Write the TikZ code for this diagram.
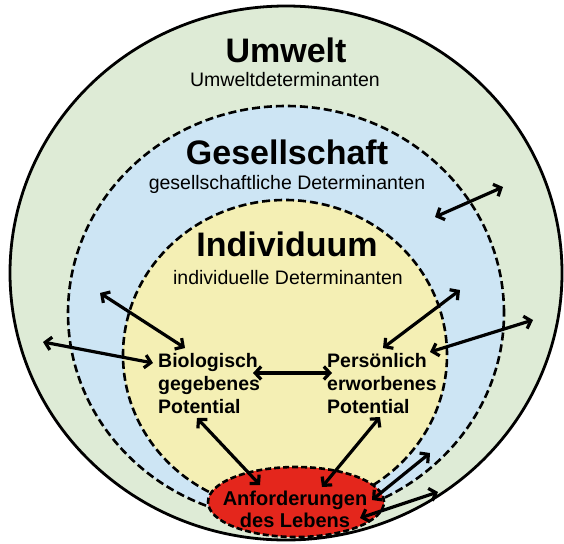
\documentclass[tikz,border=0pt]{standalone}
\usepackage{fontspec}
\setmainfont{Liberation Sans}
\usetikzlibrary{arrows.meta}
\definecolor{umweltgreen}{HTML}{DEEBD6}
\definecolor{gesblue}{HTML}{CDE5F4}
\definecolor{indyellow}{HTML}{F4EFB4}
\definecolor{lebensred}{HTML}{E4261C}
\begin{document}
\begin{tikzpicture}[x=1pt,y=-1pt,
  biarrow/.style={{Straight Barb[length=6pt,width=13pt]}-{Straight Barb[length=6pt,width=13pt]}, line width=3.2pt},
  zone/.style={line width=2.6pt, dash pattern=on 8pt off 4pt},
  titletext/.style={font=\fontsize{34}{40}\selectfont\bfseries, inner sep=0pt},
  subtext/.style={font=\fontsize{19.5}{23}\selectfont, inner sep=0pt},
  pottext/.style={font=\fontsize{19.5}{23}\selectfont\bfseries, inner sep=0pt, align=left, anchor=north west},
  redtext/.style={font=\fontsize{20}{22}\selectfont\bfseries, inner sep=0pt, align=center}
]
\useasboundingbox (0,0) rectangle (564,543);
\fill[white] (0,0) rectangle (564,543);

% Umwelt
\path[draw=black, line width=2.8pt, fill=umweltgreen] (286,273) ellipse [x radius=276pt, y radius=267pt];

% Gesellschaft
\path[zone, draw=black, fill=gesblue] (286,313) ellipse [x radius=218pt, y radius=207pt];

% Individuum
\path[zone, draw=black, fill=indyellow] (285,355) ellipse [x radius=162pt, y radius=155pt];

% Anforderungen des Lebens
\path[draw=black, fill=lebensred, line width=2.6pt, dash pattern=on 6pt off 3pt] (296,502) ellipse [x radius=88pt, y radius=35pt];

% Texts
\node[titletext] (umwelt) at (286,50) {Umwelt};
\node[subtext] (umweltdet) at (285,80) {Umweltdeterminanten};
\node[titletext] (ges) at (287,152) {Gesellschaft};
\node[subtext] (gesdet) at (287,184) {gesellschaftliche Determinanten};
\node[titletext] (ind) at (287,244) {Individuum};
\node[subtext] (inddet) at (288,278) {individuelle Determinanten};
\node[pottext] (bio) at (158,353) {Biologisch\\gegebenes\\Potential};
\node[pottext] (pers) at (327,353) {Persönlich\\erworbenes\\Potential};
\node[redtext] (leben) at (295,509) {Anforderungen\\des Lebens};

% Arrow end points
\coordinate (a1s) at (100,293); \coordinate (a1e) at (185,348);
\coordinate (a2s) at (43,342);  \coordinate (a2e) at (153,363);
\coordinate (a3s) at (253,373); \coordinate (a3e) at (332,373);
\coordinate (a4s) at (383,348); \coordinate (a4e) at (460,290);
\coordinate (a5s) at (430,352); \coordinate (a5e) at (533,320);
\coordinate (a6s) at (435,217); \coordinate (a6e) at (503,187);
\coordinate (a7s) at (197,418); \coordinate (a7e) at (260,485);
\coordinate (a8s) at (380,417); \coordinate (a8e) at (322,487);
\coordinate (a9s) at (372,500); \coordinate (a9e) at (430,453);
\coordinate (a10s) at (360,518); \coordinate (a10e) at (438,492);

\foreach \i in {1,...,10} {\draw[biarrow] (a\i s) -- (a\i e);}
\end{tikzpicture}
\end{document}
